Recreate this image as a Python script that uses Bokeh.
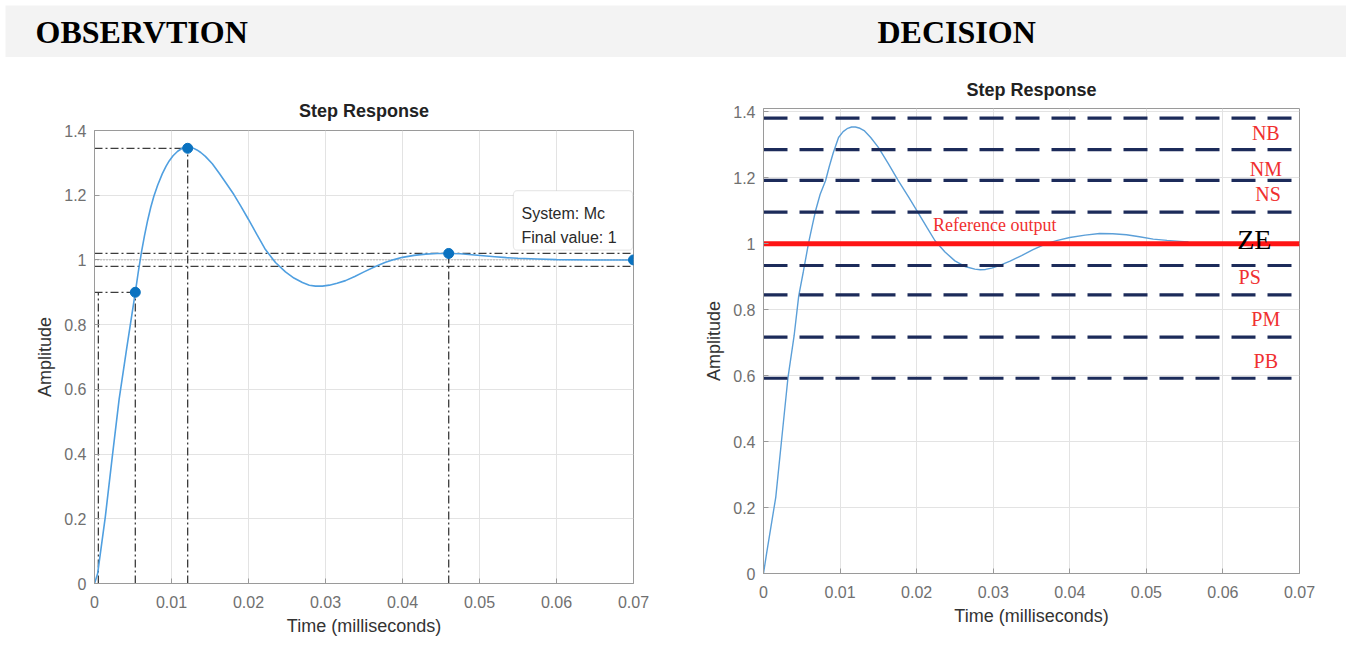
from bokeh.plotting import figure
from bokeh.layouts import column, row
from bokeh.models import Range1d, FixedTicker, BoxAnnotation, Label, ColumnDataSource
from bokeh.core.properties import value
from bokeh.embed import file_html
from bokeh.resources import INLINE

# ---------------- data ----------------
headers = ["OBSERVTION", "DECISION"]
plot_title = "Step Response"
x_label = "Time (milliseconds)"
y_label = "Amplitude"

x_ticks = [0, 0.01, 0.02, 0.03, 0.04, 0.05, 0.06, 0.07]
x_tick_labels = ["0", "0.01", "0.02", "0.03", "0.04", "0.05", "0.06", "0.07"]
y_ticks = [0, 0.2, 0.4, 0.6, 0.8, 1.0, 1.2, 1.4]
y_tick_labels = ["0", "0.2", "0.4", "0.6", "0.8", "1", "1.2", "1.4"]

obs_t = [0, 0.0004, 0.0014, 0.0023, 0.0032, 0.0042, 0.0053, 0.0057, 0.0061, 0.0065,
         0.0069, 0.0073, 0.0077, 0.0082, 0.0088, 0.0093, 0.0097, 0.0102, 0.0108, 0.0114,
         0.0121, 0.0127, 0.0133, 0.0138, 0.0144, 0.0153, 0.0162, 0.0171, 0.0181, 0.0190,
         0.0200, 0.0211, 0.0222, 0.0235, 0.0248, 0.0259, 0.0270, 0.0279, 0.0287, 0.0296,
         0.0305, 0.0315, 0.0326, 0.0338, 0.0350, 0.0364, 0.0378, 0.0389, 0.0400, 0.0415,
         0.0430, 0.0445, 0.0460, 0.0475, 0.0490, 0.0505, 0.0520, 0.0535, 0.0550, 0.0575,
         0.0600, 0.0650, 0.0700]
obs_y = [0, 0.03, 0.205, 0.39, 0.57, 0.73, 0.90, 0.965, 1.024, 1.076,
         1.122, 1.162, 1.196, 1.231, 1.266, 1.290, 1.306, 1.322, 1.336, 1.345,
         1.350, 1.347, 1.340, 1.332, 1.320, 1.297, 1.268, 1.237, 1.202, 1.166,
         1.125, 1.078, 1.032, 0.992, 0.963, 0.944, 0.930, 0.922, 0.919, 0.919,
         0.922, 0.928, 0.936, 0.949, 0.963, 0.979, 0.993, 1.001, 1.008, 1.014,
         1.018, 1.020, 1.020, 1.019, 1.016, 1.013, 1.010, 1.007, 1.005, 1.003,
         1.001, 1.000, 1.000]

# characteristic points of the observation
char_t = [0.0053, 0.0121, 0.046, 0.07]
char_y = [0.90, 1.345, 1.02, 1.0]
t10 = 0.0005
band_hi, band_lo, final_value = 1.02, 0.98, 1.0
info_lines = ["System: Mc", "Final value: 1"]

# decision step response
dec_t = [0, 0.0004, 0.0016, 0.0024, 0.0032, 0.0040, 0.0046, 0.0052, 0.0059, 0.0064,
         0.0068, 0.0074, 0.0081, 0.0086, 0.0091, 0.0098, 0.0104, 0.0110, 0.0115, 0.0120,
         0.0126, 0.0132, 0.0140, 0.0150, 0.0163, 0.0176, 0.0190, 0.0203, 0.0214, 0.0224,
         0.0237, 0.0250, 0.0263, 0.0276, 0.0283, 0.0290, 0.0298, 0.0307, 0.0322, 0.0337,
         0.0352, 0.0368, 0.0384, 0.0400, 0.0420, 0.0439, 0.0456, 0.0474, 0.0491, 0.0509,
         0.0527, 0.0544, 0.0555]
dec_y = [0, 0.06, 0.231, 0.413, 0.595, 0.721, 0.842, 0.915, 1.004, 1.058,
         1.10, 1.150, 1.191, 1.235, 1.275, 1.322, 1.340, 1.350, 1.354, 1.354,
         1.350, 1.342, 1.322, 1.292, 1.243, 1.191, 1.140, 1.090, 1.047, 1.009,
         0.975, 0.948, 0.931, 0.923, 0.921, 0.922, 0.926, 0.933, 0.947, 0.964,
         0.982, 0.999, 1.010, 1.019, 1.026, 1.031, 1.030, 1.027, 1.021, 1.014,
         1.010, 1.007, 1.005]

zone_bounds = [1.381, 1.285, 1.192, 1.096, 0.934, 0.845, 0.717, 0.592]
zone_names = ["NB", "NM", "NS", "PS", "PM", "PB"]
zone_name_t = [0.0656, 0.0656, 0.0659, 0.0635, 0.0656, 0.0656]
zone_name_y = [1.337, 1.226, 1.151, 0.898, 0.772, 0.645]
ze_name, ze_t, ze_y = "ZE", 0.0641, 1.014
reference_value = 1.0
reference_text, reference_t, reference_y = "Reference output", 0.0302, 1.058

SANS = "Liberation Sans"
SERIF = "Liberation Serif"


def style(p, title_standoff):
    p.frame_align = False
    p.xaxis.ticker = FixedTicker(ticks=x_ticks)
    p.yaxis.ticker = FixedTicker(ticks=y_ticks)
    p.xaxis.major_label_overrides = dict(zip(x_ticks, x_tick_labels))
    p.yaxis.major_label_overrides = dict(zip(y_ticks, y_tick_labels))
    p.xaxis.axis_label = x_label
    p.yaxis.axis_label = y_label
    for ax in (p.xaxis, p.yaxis):
        ax.axis_line_color = "#9a9a9a"
        ax.major_tick_line_color = "#9a9a9a"
        ax.major_tick_in = 5
        ax.major_tick_out = 0
        ax.minor_tick_line_color = None
        ax.major_label_text_font = SANS
        ax.major_label_text_font_size = "16px"
        ax.major_label_text_color = "#707070"
        ax.axis_label_text_font = SANS
        ax.axis_label_text_font_size = "18px"
        ax.axis_label_text_font_style = "normal"
        ax.axis_label_text_color = "#333333"
    p.xaxis.major_label_standoff = 12
    p.yaxis.major_label_standoff = 8
    p.xaxis.axis_label_standoff = 5
    p.yaxis.axis_label_standoff = 6
    p.grid.grid_line_color = "#e3e3e3"
    p.outline_line_color = "#9a9a9a"
    p.title.text_font = SANS
    p.title.text_font_size = "18px"
    p.title.text_font_style = "bold"
    p.title.text_color = "#222222"
    p.title.align = "center"
    p.title.standoff = title_standoff
    p.background_fill_color = "white"
    p.border_fill_color = "white"


# ---------------- header ----------------
head = figure(width=1346, height=57, x_range=Range1d(0, 1346), y_range=Range1d(57, 0),
              output_backend="svg", toolbar_location=None,
              x_axis_location=None, y_axis_location=None, min_border=0)
head.grid.visible = False
head.outline_line_color = None
head.border_fill_color = "white"
head.background_fill_color = "white"
head.quad(left=[5], right=[1346], top=[5], bottom=[57], fill_color="#f3f3f3", line_color=None)
head.text(x=[35, 877], y=[31, 31], text=headers, text_font=value(SERIF),
          text_font_size="32px", text_font_style="bold", text_color="black",
          text_baseline="middle", text_align="left")

# ---------------- observation ----------------
p1 = figure(width=673, height=595, x_range=Range1d(0, 0.07), y_range=Range1d(0, 1.4),
            output_backend="svg", toolbar_location=None, title=plot_title,
            min_border_left=94, min_border_right=40, min_border_top=73, min_border_bottom=69)
style(p1, 20)

dd = "8 3 2 3"
dcol = "#3c3c3c"
# settling band and final value
p1.segment(x0=[0, 0], x1=[0.07, 0.07], y0=[band_hi, band_lo], y1=[band_hi, band_lo],
           line_color=dcol, line_dash=dd, line_width=1.3)
p1.segment(x0=[0], x1=[0.07], y0=[final_value], y1=[final_value],
           line_color="#9a9a9a", line_dash="1 2", line_width=1.2)
# rise time
p1.segment(x0=[0, t10, char_t[0]], x1=[char_t[0], t10, char_t[0]],
           y0=[char_y[0], 0, 0], y1=[char_y[0], char_y[0], char_y[0]],
           line_color=dcol, line_dash=dd, line_width=1.3)
# peak
p1.segment(x0=[0, char_t[1]], x1=[char_t[1], char_t[1]],
           y0=[char_y[1], 0], y1=[char_y[1], char_y[1]],
           line_color=dcol, line_dash=dd, line_width=1.3)
# settling time
p1.segment(x0=[char_t[2]], x1=[char_t[2]], y0=[0], y1=[char_y[2]],
           line_color=dcol, line_dash=dd, line_width=1.3)

p1.line(obs_t, obs_y, line_color="#4f9fe0", line_width=1.6)
p1.scatter(char_t, char_y, size=10, fill_color="#0a72c0", line_color="#0a72c0")

box = BoxAnnotation(left=0.0544, right=0.0699, bottom=1.03, top=1.214, border_radius=4,
                    fill_color="white", fill_alpha=1.0, line_color="#b5b5b5", line_width=1.2)
p1.add_layout(box)
for txt, yy in zip(info_lines, [1.143, 1.069]):
    p1.add_layout(Label(x=0.05545, y=yy, text=txt, text_font=SANS, text_font_size="16px",
                        text_color="#2a2a2a", text_baseline="middle", text_align="left"))

# ---------------- decision ----------------
p2 = figure(width=673, height=595, x_range=Range1d(0, 0.07), y_range=Range1d(0, 1.41),
            output_backend="svg", toolbar_location=None, title=plot_title,
            min_border_left=90, min_border_right=47, min_border_top=51, min_border_bottom=79)
style(p2, 18)

p2.line(dec_t, dec_y, line_color="#5b9fd8", line_width=1.4)
p2.segment(x0=[0] * len(zone_bounds), x1=[0.07] * len(zone_bounds),
           y0=zone_bounds, y1=zone_bounds,
           line_color="#1c2b5a", line_width=3.2, line_dash="24 12")
p2.segment(x0=[0], x1=[0.07], y0=[reference_value], y1=[reference_value],
           line_color="#ff1414", line_width=5)
zsrc = ColumnDataSource(dict(x=zone_name_t, y=zone_name_y, t=zone_names))
p2.text(x="x", y="y", text="t", source=zsrc, text_font=value(SERIF), text_font_size="20px",
        text_color="#f03030", text_align="center", text_baseline="middle")
p2.text(x=[ze_t], y=[ze_y], text=[ze_name], text_font=value(SERIF), text_font_size="28px",
        text_color="black", text_align="center", text_baseline="middle")
p2.text(x=[reference_t], y=[reference_y], text=[reference_text], text_font=value(SERIF),
        text_font_size="18px", text_color="#f03030", text_align="center", text_baseline="middle")

layout = column(head, row(p1, p2, spacing=0), spacing=0)
open("out.html", "w").write(file_html(layout, INLINE))
